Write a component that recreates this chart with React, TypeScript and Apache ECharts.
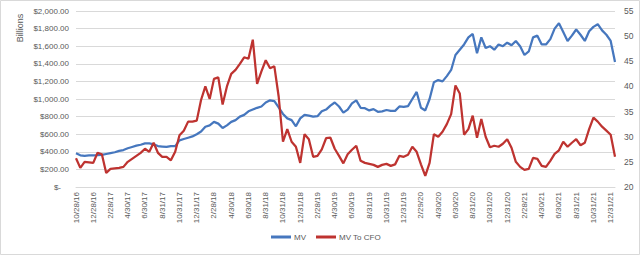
import React, { useEffect, useRef } from "react";
import * as echarts from "echarts";

// Tick labels on the x axis (every 2 months); 3 intermediate samples between ticks
const tickLabels = [
  "10/28/16", "12/28/16", "2/28/17", "4/30/17", "6/30/17", "8/31/17", "10/31/17", "12/31/17",
  "2/28/18", "4/30/18", "6/30/18", "8/31/18", "10/31/18", "12/31/18", "2/28/19", "4/30/19",
  "6/30/19", "8/31/19", "10/31/19", "12/31/19", "2/29/20", "4/30/20", "6/30/20", "8/31/20",
  "10/31/20", "12/31/20", "2/28/21", "4/30/21", "6/30/21", "8/31/21", "10/31/21", "12/31/21",
];

// MV, $ billions (left axis)
const mvValues = [
  383, 360, 355, 358, 360, 362, 365, 375, 385, 395,
  410, 420, 440, 455, 470, 480, 495, 495, 485, 465,
  460, 455, 465, 465, 530, 545, 560, 575, 600, 630,
  685, 700, 740, 720, 670, 700, 740, 760, 800, 820,
  860, 880, 900, 915, 960, 985, 975, 905, 830, 780,
  760, 690, 780, 820, 810, 800, 805, 860, 880, 925,
  960, 915, 845, 880, 950, 985, 900, 895, 870, 885,
  855, 860, 875, 865, 865, 915, 910, 920, 1000, 1080,
  900, 870, 1000, 1190, 1215, 1200, 1260, 1330, 1500, 1560,
  1620, 1700, 1740, 1520, 1700, 1580, 1600, 1560, 1620, 1600,
  1640, 1610, 1660, 1600, 1500, 1540, 1700, 1720, 1620, 1620,
  1680, 1800, 1860, 1760, 1660, 1720, 1790, 1730, 1660, 1770,
  1820, 1850, 1780, 1730, 1660, 1420,
];

// MV to CFO ratio (right axis)
const mvToCfoValues = [
  25.7, 23.8, 25.0, 24.9, 24.8, 26.8, 26.5, 22.8, 23.6, 23.7,
  23.8, 24.0, 25.0, 25.6, 26.2, 26.8, 27.6, 27.0, 28.8, 26.8,
  26.0, 26.0, 25.3, 27.0, 30.3, 31.2, 33.0, 33.0, 33.2, 37.3,
  40.0, 37.5, 41.5, 41.8, 36.4, 40.0, 42.5, 43.3, 44.5, 45.8,
  45.5, 49.3, 40.5, 43.0, 45.2, 43.6, 44.0, 38.0, 29.0, 31.5,
  29.0, 28.0, 24.8, 30.5, 29.5, 26.0, 26.2, 27.5, 29.7, 29.8,
  27.6, 26.2, 24.7, 26.5, 27.4, 28.2, 25.2, 24.8, 24.6, 24.4,
  24.0, 24.4, 24.6, 24.2, 24.5, 26.2, 26.0, 26.4, 28.0, 27.0,
  24.5, 22.2, 24.8, 30.5, 30.0, 31.0, 32.5, 34.5, 40.2, 38.6,
  30.4, 31.5, 34.2, 29.8, 33.5, 30.0, 27.9, 28.2, 28.0, 28.6,
  29.5, 27.8, 25.0, 24.0, 23.4, 23.6, 25.8, 25.6, 24.2, 24.0,
  25.2, 26.6, 27.3, 29.0, 28.0, 28.8, 29.5, 28.3, 28.8, 31.5,
  33.8, 33.0, 32.0, 31.2, 30.4, 26.0,
];

const seriesNames = ["MV", "MV To CFO"];
const SUB = 4;

const categories: string[] = [];
tickLabels.forEach((t, i) => {
  categories.push(t);
  const n = i < tickLabels.length - 1 ? SUB - 1 : 1;
  for (let k = 1; k <= n; k++) categories.push(t + "#" + k);
});

const FONT = "'Liberation Sans', Arial, sans-serif";
const GRAY = "#595959";

export default function App() {
  const ref = useRef<HTMLDivElement>(null);
  useEffect(() => {
    if (!ref.current) return;
    const chart = echarts.init(ref.current, undefined, { renderer: "svg" });
    chart.setOption({
      animation: false,
      backgroundColor: "#ffffff",
      textStyle: { fontFamily: FONT },
      grid: { left: 76, right: 25, top: 11, bottom: 69, containLabel: false },
      legend: {
        data: seriesNames,
        bottom: 10,
        left: 266,
        icon: "rect",
        itemWidth: 20,
        itemHeight: 3,
        itemGap: 10,
        textStyle: { color: GRAY, fontSize: 8, fontFamily: FONT, padding: [0, 0, 0, -2] },
      },
      graphic: [
        {
          type: "rect",
          shape: { x: 0.5, y: 0.5, width: 639, height: 254 },
          style: { fill: "none", stroke: "#D9D9D9", lineWidth: 1 },
          silent: true,
        },
        {
          type: "text",
          x: 20,
          y: 28,
          rotation: Math.PI / 2,
          style: {
            text: "Billions",
            fill: GRAY,
            fontSize: 9,
            fontFamily: FONT,
            textAlign: "center",
            textVerticalAlign: "middle",
          },
        },
      ],
      xAxis: {
        type: "category",
        data: categories,
        boundaryGap: false,
        axisLine: { lineStyle: { color: "#D9D9D9" } },
        axisTick: { show: false },
        splitLine: { show: false },
        axisLabel: {
          interval: SUB - 1,
          rotate: 90,
          margin: 5,
          color: GRAY,
          fontSize: 8,
          fontFamily: FONT,
          formatter: (v: string) => v.split("#")[0],
        },
      },
      yAxis: [
        {
          type: "value",
          min: 0,
          max: 2000,
          interval: 200,
          position: "left",
          axisLine: { show: false },
          axisTick: { show: false },
          splitLine: { lineStyle: { color: "#D9D9D9" } },
          axisLabel: {
            margin: 7,
            color: GRAY,
            fontSize: 8,
            fontFamily: FONT,
            formatter: (v: number) =>
              v === 0
                ? "{z|$-}"
                : "$" + v.toLocaleString("en-US", { minimumFractionDigits: 2, maximumFractionDigits: 2 }),
            rich: { z: { color: GRAY, fontSize: 8, fontFamily: FONT, padding: [0, 8, 0, 0] } },
          },
        },
        {
          type: "value",
          min: 20,
          max: 55,
          interval: 5,
          position: "right",
          axisLine: { show: false },
          axisTick: { show: false },
          splitLine: { show: false },
          axisLabel: { margin: 9, color: GRAY, fontSize: 8.5, fontFamily: FONT },
        },
      ],
      series: [
        {
          name: seriesNames[0],
          type: "line",
          yAxisIndex: 0,
          data: mvValues,
          showSymbol: false,
          symbol: "none",
          lineStyle: { color: "#4677BE", width: 2.25 },
          itemStyle: { color: "#4677BE" },
        },
        {
          name: seriesNames[1],
          type: "line",
          yAxisIndex: 1,
          data: mvToCfoValues,
          showSymbol: false,
          symbol: "none",
          lineStyle: { color: "#BE3330", width: 2.25 },
          itemStyle: { color: "#BE3330" },
        },
      ],
    });
    return () => chart.dispose();
  }, []);
  return (
    <div
      ref={ref}
      style={{ position: "fixed", left: 0, top: 0, width: 640, height: 256 }}
    />
  );
}
